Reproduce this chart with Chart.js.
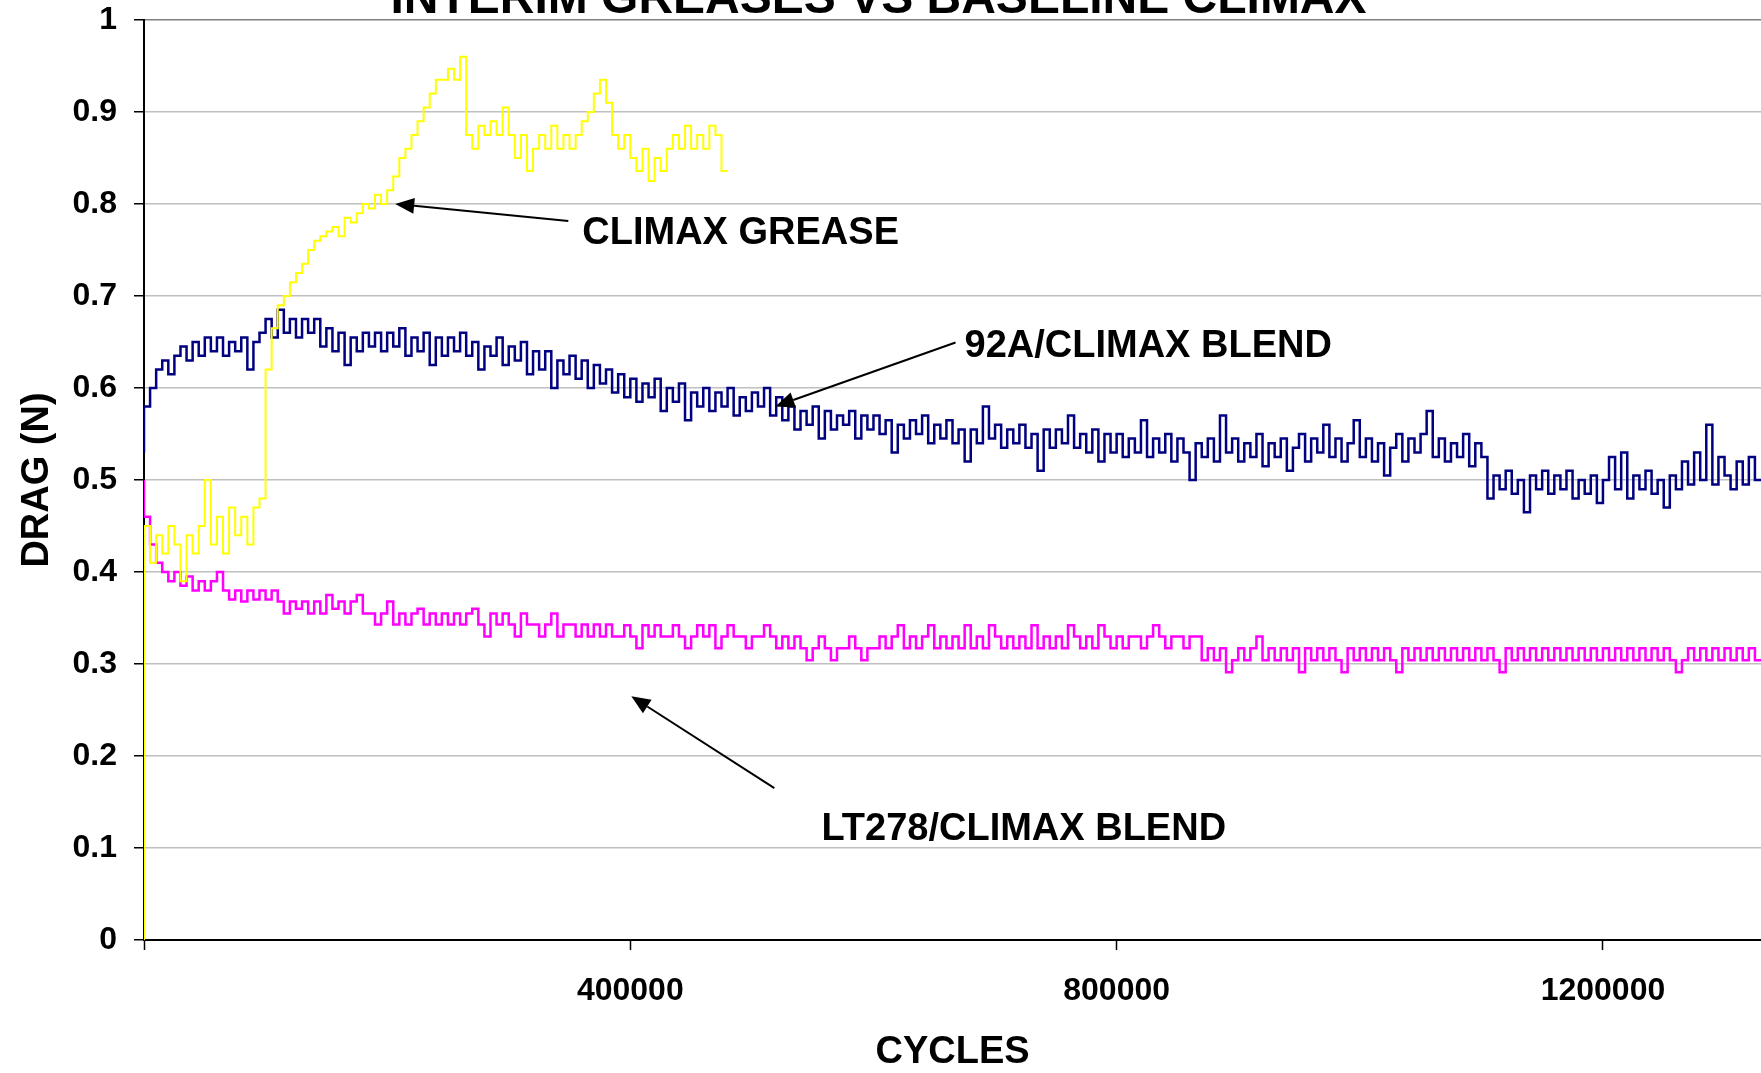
<!DOCTYPE html>
<html>
<head>
<meta charset="utf-8">
<script src="https://cdn.jsdelivr.net/npm/chart.js@4.4.1/dist/chart.umd.min.js"></script>
<style>
  html, body { margin: 0; padding: 0; background: #fff; overflow: hidden; }
</style>
</head>
<body>
<canvas id="dragChart" width="1761" height="1073"></canvas>
<script>
// Drag vs cycles, one reading every 5000 cycles
const chartTitle = 'INTERIM GREASES VS BASELINE CLIMAX';
const sampleStep = 5000;
const xTickValues = [0, 400000, 800000, 1200000];

const climaxDrag = [
  0, 0.45, 0.41, 0.44, 0.42, 0.45, 0.43, 0.39, 0.44, 0.42,
  0.45, 0.50, 0.43, 0.46, 0.42, 0.47, 0.44, 0.46, 0.43, 0.47,
  0.48, 0.62, 0.665, 0.69, 0.70, 0.715, 0.725, 0.735, 0.75, 0.76,
  0.765, 0.77, 0.775, 0.765, 0.785, 0.78, 0.79, 0.80, 0.795, 0.81,
  0.80, 0.815, 0.83, 0.85, 0.86, 0.875, 0.89, 0.905, 0.92, 0.935,
  0.935, 0.947, 0.935, 0.96, 0.875, 0.86, 0.885, 0.875, 0.89, 0.875,
  0.905, 0.875, 0.85, 0.875, 0.836, 0.86, 0.875, 0.86, 0.885, 0.86,
  0.875, 0.86, 0.875, 0.89, 0.90, 0.92, 0.935, 0.91, 0.875, 0.86,
  0.875, 0.85, 0.836, 0.86, 0.825, 0.85, 0.836, 0.86, 0.875, 0.86,
  0.885, 0.86, 0.875, 0.86, 0.885, 0.875, 0.836
];

const blendA92Drag = [
  0.53, 0.58, 0.60, 0.62, 0.63, 0.615, 0.635, 0.645, 0.63, 0.65,
  0.635, 0.655, 0.64, 0.655, 0.635, 0.65, 0.64, 0.655, 0.62, 0.65,
  0.66, 0.675, 0.655, 0.685, 0.66, 0.675, 0.655, 0.675, 0.66, 0.675,
  0.645, 0.665, 0.64, 0.66, 0.625, 0.655, 0.64, 0.66, 0.645, 0.66,
  0.64, 0.66, 0.645, 0.665, 0.635, 0.655, 0.64, 0.66, 0.625, 0.655,
  0.635, 0.655, 0.64, 0.66, 0.635, 0.65, 0.62, 0.645, 0.635, 0.655,
  0.625, 0.645, 0.63, 0.65, 0.615, 0.64, 0.62, 0.64, 0.60, 0.63,
  0.615, 0.635, 0.61, 0.63, 0.60, 0.625, 0.605, 0.62, 0.595, 0.615,
  0.59, 0.61, 0.585, 0.605, 0.59, 0.61, 0.575, 0.60, 0.585, 0.605,
  0.565, 0.595, 0.58, 0.60, 0.575, 0.595, 0.58, 0.60, 0.57, 0.59,
  0.575, 0.595, 0.58, 0.60, 0.57, 0.59, 0.565, 0.58, 0.555, 0.575,
  0.56, 0.58, 0.545, 0.575, 0.555, 0.57, 0.56, 0.575, 0.545, 0.57,
  0.555, 0.57, 0.55, 0.565, 0.53, 0.56, 0.545, 0.565, 0.55, 0.57,
  0.54, 0.56, 0.545, 0.565, 0.54, 0.555, 0.52, 0.555, 0.54, 0.58,
  0.545, 0.56, 0.535, 0.555, 0.54, 0.56, 0.535, 0.55, 0.51, 0.555,
  0.535, 0.555, 0.54, 0.57, 0.535, 0.55, 0.53, 0.555, 0.52, 0.55,
  0.53, 0.55, 0.525, 0.545, 0.53, 0.565, 0.525, 0.545, 0.53, 0.55,
  0.52, 0.545, 0.53, 0.50, 0.54, 0.525, 0.545, 0.52, 0.57, 0.53,
  0.545, 0.52, 0.54, 0.525, 0.55, 0.515, 0.54, 0.525, 0.545, 0.51,
  0.535, 0.55, 0.52, 0.545, 0.53, 0.56, 0.525, 0.545, 0.52, 0.54,
  0.565, 0.525, 0.545, 0.52, 0.54, 0.505, 0.535, 0.55, 0.52, 0.545,
  0.53, 0.55, 0.575, 0.525, 0.545, 0.52, 0.54, 0.525, 0.55, 0.515,
  0.54, 0.525,
  0.48, 0.505, 0.49, 0.51, 0.485, 0.50, 0.465, 0.505, 0.49, 0.51,
  0.485, 0.505, 0.49, 0.51, 0.48, 0.50, 0.485, 0.505, 0.475, 0.50,
  0.525, 0.49, 0.53, 0.48, 0.505, 0.49, 0.51, 0.485, 0.50, 0.47,
  0.505, 0.49, 0.52, 0.495, 0.53, 0.50, 0.56, 0.495, 0.525, 0.505,
  0.49, 0.52, 0.495, 0.525, 0.50
];

const blendLT278Drag = [
  0.50, 0.46, 0.43, 0.41, 0.40, 0.39, 0.40, 0.385, 0.395,
  0.38, 0.39, 0.38, 0.39, 0.40, 0.38,
  0.37, 0.38, 0.368, 0.38, 0.37, 0.38, 0.37, 0.38, 0.368,
  0.355, 0.368, 0.36, 0.368, 0.355, 0.368, 0.355, 0.375, 0.36, 0.368, 0.355, 0.368, 0.375, 0.355,
  0.355, 0.343, 0.355, 0.368, 0.343, 0.355, 0.343, 0.355, 0.36, 0.343, 0.355, 0.343, 0.355,
  0.343, 0.355, 0.343, 0.355, 0.36, 0.343, 0.33, 0.355, 0.343, 0.355,
  0.343, 0.33, 0.355, 0.343, 0.343, 0.33, 0.343, 0.355, 0.33, 0.343,
  0.343, 0.33, 0.343, 0.33, 0.343, 0.33, 0.343, 0.33,
  0.33, 0.342, 0.33, 0.317, 0.342, 0.33, 0.342, 0.33,
  0.33, 0.342, 0.33, 0.317, 0.33, 0.342, 0.33, 0.342, 0.317, 0.33,
  0.342, 0.33, 0.33, 0.317, 0.33, 0.33, 0.342, 0.33, 0.317, 0.33,
  0.317, 0.33, 0.317, 0.304, 0.317, 0.33, 0.317, 0.304, 0.317, 0.317,
  0.33, 0.317, 0.304, 0.317, 0.317,
  0.33, 0.317, 0.33, 0.342, 0.317, 0.33, 0.317, 0.33, 0.342, 0.317,
  0.33, 0.317, 0.33, 0.317, 0.342, 0.317, 0.33, 0.317, 0.342, 0.33,
  0.317, 0.33, 0.317, 0.33, 0.317, 0.342, 0.317, 0.33, 0.317, 0.33,
  0.317, 0.342, 0.33, 0.317, 0.33, 0.317, 0.342, 0.33, 0.317, 0.33,
  0.317, 0.33, 0.33, 0.317, 0.33, 0.342, 0.33, 0.317, 0.33, 0.33,
  0.317, 0.33, 0.33,
  0.304, 0.317, 0.304, 0.317, 0.291, 0.304, 0.317, 0.304, 0.317, 0.33,
  0.304, 0.317, 0.304, 0.317, 0.304, 0.317, 0.291, 0.317, 0.304, 0.317,
  0.304, 0.317, 0.304, 0.291, 0.317, 0.304, 0.317, 0.304, 0.317, 0.304,
  0.317, 0.304, 0.291, 0.317, 0.304, 0.317, 0.304, 0.317, 0.304, 0.317,
  0.304, 0.317, 0.304, 0.317, 0.304, 0.317, 0.304, 0.317, 0.304, 0.291,
  0.317, 0.304, 0.317, 0.304, 0.317, 0.304, 0.317, 0.304, 0.317, 0.304,
  0.317, 0.304, 0.317, 0.304, 0.317, 0.304, 0.317, 0.304, 0.317, 0.304,
  0.317, 0.304, 0.317, 0.304, 0.317, 0.304, 0.317, 0.304, 0.291, 0.304,
  0.317, 0.304, 0.317, 0.304, 0.317, 0.304, 0.317, 0.304, 0.317, 0.304,
  0.317, 0.304
];

// text callouts: label anchor (left, baseline) and arrow tail -> tip, in data units
const callouts = [
  { text: 'CLIMAX GREASE', at: [360500, 0.7565], from: [349000, 0.7815], to: [206600, 0.80] },
  { text: '92A/CLIMAX BLEND', at: [674900, 0.6337], from: [667500, 0.6495], to: [519300, 0.58] },
  { text: 'LT278/CLIMAX BLEND', at: [557200, 0.1087], from: [518500, 0.165], to: [400800, 0.265] }
];

const FONT = '"Liberation Sans", Arial, sans-serif';

function toPoints(values) {
  return values.map((v, i) => ({ x: i * sampleStep, y: v }));
}

function drawArrow(ctx, x1, y1, x2, y2) {
  const ang = Math.atan2(y2 - y1, x2 - x1);
  const len = 19, half = 8;
  const bx = x2 - len * Math.cos(ang), by = y2 - len * Math.sin(ang);
  ctx.beginPath();
  ctx.moveTo(x1, y1);
  ctx.lineTo(bx, by);
  ctx.stroke();
  ctx.beginPath();
  ctx.moveTo(x2, y2);
  ctx.lineTo(bx + half * Math.sin(ang), by - half * Math.cos(ang));
  ctx.lineTo(bx - half * Math.sin(ang), by + half * Math.cos(ang));
  ctx.closePath();
  ctx.fill();
}

const calloutPlugin = {
  id: 'callouts',
  afterDatasetsDraw(chart) {
    const { ctx, scales: { x, y } } = chart;
    ctx.save();
    ctx.fillStyle = '#000';
    ctx.strokeStyle = '#000';
    ctx.lineWidth = 2;
    ctx.font = 'bold 38px ' + FONT;
    ctx.textAlign = 'left';
    ctx.textBaseline = 'alphabetic';
    callouts.forEach(c => {
      drawArrow(ctx,
        x.getPixelForValue(c.from[0]), y.getPixelForValue(c.from[1]),
        x.getPixelForValue(c.to[0]), y.getPixelForValue(c.to[1]));
      ctx.fillText(c.text, x.getPixelForValue(c.at[0]), y.getPixelForValue(c.at[1]));
    });
    ctx.restore();
  }
};

// the title sits partly above the top edge, as in the original image
const cutTitlePlugin = {
  id: 'cutTitle',
  afterDraw(chart) {
    const ctx = chart.ctx;
    ctx.save();
    ctx.font = 'bold 48px ' + FONT;
    ctx.fillStyle = '#000';
    ctx.textAlign = 'center';
    ctx.textBaseline = 'alphabetic';
    ctx.fillText(chartTitle, chart.width / 2 - 2, 13);
    ctx.restore();
  }
};

new Chart(document.getElementById('dragChart'), {
  type: 'line',
  data: {
    datasets: [
      { label: 'CLIMAX GREASE', data: toPoints(climaxDrag), borderColor: '#ffff00', borderWidth: 2 },
      { label: '92A/CLIMAX BLEND', data: toPoints(blendA92Drag), borderColor: '#000080', borderWidth: 2.5 },
      { label: 'LT278/CLIMAX BLEND', data: toPoints(blendLT278Drag), borderColor: '#ff00ff', borderWidth: 2.5 }
    ]
  },
  options: {
    responsive: false,
    animation: false,
    layout: { padding: { left: 0, top: 20, right: 0, bottom: 0 } },
    elements: {
      line: { tension: 0, stepped: 'after' },
      point: { radius: 0 }
    },
    plugins: {
      legend: { display: false },
      tooltip: { enabled: false }
    },
    scales: {
      x: {
        type: 'linear',
        min: 0,
        max: 1330000,
        afterBuildTicks: s => { s.ticks = xTickValues.map(v => ({ value: v })); },
        afterFit: s => { s.height = 133; },
        ticks: {
          callback: v => (v === 0 ? '' : String(v)),
          color: '#000',
          font: { family: FONT, size: 32, weight: 'bold' },
          padding: 22,
          maxRotation: 0,
          autoSkip: false
        },
        grid: { drawOnChartArea: false, tickLength: 10, tickColor: '#000', tickWidth: 1.5 },
        border: { color: '#000', width: 2 },
        title: {
          display: true,
          text: 'CYCLES',
          color: '#000',
          font: { family: FONT, size: 38, weight: 'bold' },
          padding: { top: 0, bottom: -2 }
        }
      },
      y: {
        min: 0,
        max: 1,
        afterFit: s => { s.width = 144; s.paddingTop = 0; s.paddingBottom = 0; },
        ticks: {
          stepSize: 0.1,
          callback: v => String(Math.round(v * 10) / 10),
          color: '#000',
          font: { family: FONT, size: 32, weight: 'bold' },
          padding: 17
        },
        grid: {
          color: c => (c.tick.value === 1 ? '#808080' : c.tick.value === 0 ? '#000' : '#c0c0c0'),
          lineWidth: 1.5,
          tickLength: 10,
          tickColor: '#000',
          tickWidth: 1.5
        },
        border: { color: '#000', width: 2 },
        title: {
          display: true,
          text: 'DRAG (N)',
          color: '#000',
          font: { family: FONT, size: 38, weight: 'bold' },
          padding: { top: 15, bottom: 0 }
        }
      }
    }
  },
  plugins: [calloutPlugin, cutTitlePlugin]
});
</script>
</body>
</html>
